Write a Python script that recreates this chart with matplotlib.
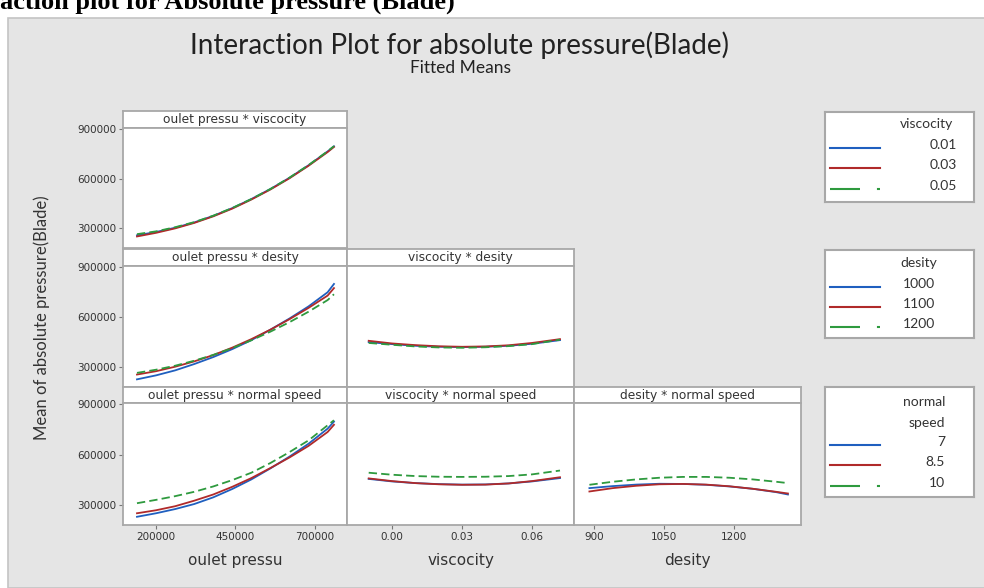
import matplotlib
matplotlib.use("Agg")
import matplotlib.pyplot as plt
from matplotlib.patches import Rectangle

plt.rcParams['font.family'] = ['Lato', 'DejaVu Sans']
plt.rcParams['lines.scale_dashes'] = False

# x levels used for the fitted-mean curves
oulet_x = [140000, 200000, 260000, 320000, 380000, 440000, 500000, 560000, 620000, 680000, 740000, 760000]
visc_x = [-0.01, 0.0, 0.01, 0.02, 0.03, 0.04, 0.05, 0.06, 0.072]
dens_x = [890, 940, 990, 1040, 1090, 1140, 1190, 1240, 1290, 1315]

visc_levels = ['0.01', '0.03', '0.05']
dens_levels = ['1000', '1100', '1200']
speed_levels = ['7', '8.5', '10']

# oulet pressu * viscocity (thousands)
op_visc = [
    [257, 277, 303, 335, 375, 422, 477, 538, 606, 682, 766, 797],
    [250, 272, 299, 332, 372, 419, 474, 535, 603, 679, 762, 793],
    [264, 281, 306, 337, 376, 423, 477, 538, 607, 683, 767, 798],
]
# oulet pressu * desity
op_dens = [
    [226, 250, 280, 318, 360, 408, 462, 525, 592, 665, 750, 800],
    [255, 275, 302, 334, 372, 417, 468, 525, 588, 656, 730, 775],
    [265, 284, 308, 338, 373, 414, 461, 513, 570, 633, 703, 738],
]
# oulet pressu * normal speed
op_speed = [
    [229, 250, 275, 305, 345, 395, 452, 518, 588, 665, 755, 797],
    [250, 268, 292, 325, 362, 408, 460, 520, 583, 652, 735, 778],
    [310, 330, 352, 378, 410, 448, 492, 550, 615, 685, 775, 805],
]
# viscocity * desity
visc_dens = [
    [450, 438, 428, 422, 420, 422, 428, 440, 462],
    [458, 442, 432, 425, 422, 424, 431, 445, 468],
    [445, 434, 424, 418, 416, 419, 426, 438, 465],
]
# viscocity * normal speed
visc_speed = [
    [455, 440, 430, 424, 421, 422, 428, 440, 460],
    [458, 442, 430, 423, 420, 421, 428, 442, 465],
    [492, 480, 472, 468, 467, 468, 472, 482, 505],
]
# desity * normal speed
dens_speed = [
    [400, 412, 421, 426, 425, 420, 410, 396, 376, 362],
    [380, 400, 414, 423, 425, 421, 411, 396, 378, 368],
    [420, 438, 452, 462, 467, 467, 462, 452, 438, 430],
]

y_ticks = [300000, 600000, 900000]
op_ticks = [200000, 450000, 700000]
visc_ticks = [0.0, 0.03, 0.06]
dens_ticks = [900, 1050, 1200]

colors = ['#1f5fbf', '#b02a2a', '#2e9a3e']
styles = ['-', '-', (0, (6, 3))]
txt = '#333333'
frame = '#a8a8a8'
small = 'DejaVu Sans'

W, H = 984, 588
fig = plt.figure(figsize=(W / 100, H / 100), dpi=100)


def px_axes(x0, y0, x1, y1):
    return fig.add_axes([x0 / W, 1 - y1 / H, (x1 - x0) / W, (y1 - y0) / H])


fig.patches.append(Rectangle((8 / W, 0), 1, 1 - 18 / H, transform=fig.transFigure,
                             facecolor='#e5e5e5', edgecolor='#c4c4c4', lw=1.2, zorder=-10))

fig.text(0, 1 - 9 / H, 'action plot for Absolute pressure (Blade)', family='Liberation Serif',
         weight='bold', fontsize=19, va='baseline', ha='left', color='black')
fig.text(460 / W, 1 - 45 / H, 'Interaction Plot for absolute pressure(Blade)', fontsize=20,
         ha='center', va='center', color='#222222')
fig.text(460 / W, 1 - 68 / H, 'Fitted Means', fontsize=12.5, ha='center', va='center', color='#222222')
fig.text(42 / W, 1 - 318 / H, 'Mean of absolute pressure(Blade)', rotation=90, fontsize=12,
         ha='center', va='center', color=txt)

cols = [(123, 347), (347, 574), (574, 801)]
rows = [(111, 128, 248), (249, 266, 387), (387, 403, 525)]
xlims = [(96000, 801000), (-0.0193, 0.078), (857, 1343)]
xvals = [oulet_x, visc_x, dens_x]
xticks = [op_ticks, visc_ticks, dens_ticks]
xfmt = [lambda v: f'{v:.0f}', lambda v: f'{v:.2f}', lambda v: f'{v:.0f}']
xnames = ['oulet pressu', 'viscocity', 'desity']

panels = [
    (0, 0, 'oulet pressu * viscocity', op_visc),
    (1, 0, 'oulet pressu * desity', op_dens),
    (1, 1, 'viscocity * desity', visc_dens),
    (2, 0, 'oulet pressu * normal speed', op_speed),
    (2, 1, 'viscocity * normal speed', visc_speed),
    (2, 2, 'desity * normal speed', dens_speed),
]

for r, c, title, series in panels:
    x0, x1 = cols[c]
    st, pt, pb = rows[r]
    sax = px_axes(x0, st, x1, pt)
    sax.set_xticks([])
    sax.set_yticks([])
    sax.text(0.5, 0.5, title, ha='center', va='center', fontsize=8.8, family=small, color=txt,
             transform=sax.transAxes)
    ax = px_axes(x0, pt, x1, pb)
    for a in (sax, ax):
        a.set_facecolor('white')
        for s in a.spines.values():
            s.set_color(frame)
            s.set_linewidth(1.3)
    for vals, col, ls in zip(series, colors, styles):
        ax.plot(xvals[c], [v * 1000 for v in vals], color=col, linestyle=ls, lw=1.3)
    ax.set_xlim(*xlims[c])
    ax.set_ylim(180000, 908000)
    ax.tick_params(length=3, width=0.8, color='#777777', labelsize=7.5, labelcolor=txt, pad=2)
    if c == 0:
        ax.set_yticks(y_ticks)
        ax.set_yticklabels([str(v) for v in y_ticks], family=small)
    else:
        ax.set_yticks([])
    if r == 2:
        ax.set_xticks(xticks[c])
        ax.set_xticklabels([xfmt[c](v) for v in xticks[c]], family=small)
        ax.set_xlabel(xnames[c], fontsize=11, family=small, color=txt, labelpad=8)
    else:
        ax.set_xticks([])

# legend boxes
legends = [
    ((112, 202), 'viscocity', visc_levels, 953, 957, [124], [148, 168, 189]),
    ((250, 338), 'desity', dens_levels, 937, 935, [263], [287, 307, 327]),
    ((387, 497), 'normal\nspeed', speed_levels, 945, 945, [402, 423], [445, 465, 486]),
]
for (ly0, ly1), name, labels, tx, vx, ty, lines_y in legends:
    lax = px_axes(825, ly0, 974, ly1)
    lax.set_xlim(825, 974)
    lax.set_ylim(ly1, ly0)
    lax.set_xticks([])
    lax.set_yticks([])
    lax.set_facecolor('white')
    for s in lax.spines.values():
        s.set_color(frame)
        s.set_linewidth(1.5)
    for part, yy in zip(name.split('\n'), ty):
        lax.text(tx, yy, part, ha='right', va='center', fontsize=10, color=txt)
    for lab, yy, col, ls in zip(labels, lines_y, colors, styles):
        if ls == '-':
            lax.plot([830, 880], [yy, yy], color=col, lw=1.5)
        else:
            lax.plot([830, 880], [yy, yy], color=col, lw=1.5, dashes=(21.6, 12.2))
        lax.text(vx, yy - 3, lab, ha='right', va='center', fontsize=10, color=txt)

fig.savefig('out.png', dpi=100)
